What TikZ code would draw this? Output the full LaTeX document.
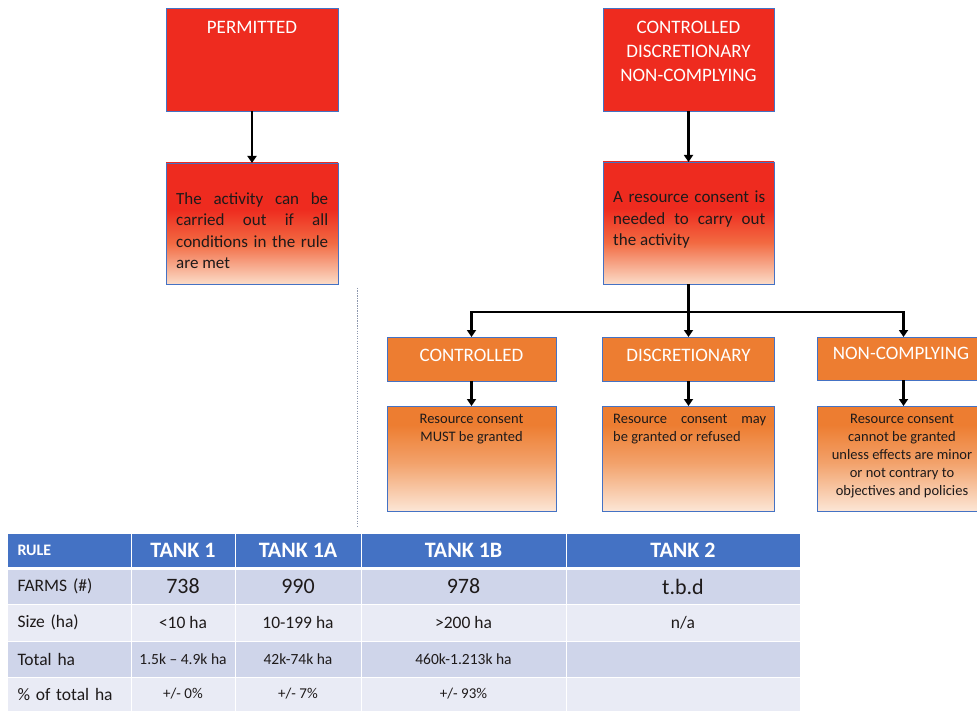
\documentclass[tikz,border=0pt]{standalone}
\usepackage{fontspec}
\setmainfont{Carlito}
\usetikzlibrary{arrows.meta}
\definecolor{bred}{HTML}{EE2B1F}
\definecolor{bborder}{HTML}{4472C4}
\definecolor{borange}{HTML}{ED7D31}
\definecolor{peach}{HTML}{FBDCC8}
\definecolor{peachb}{HTML}{FCE6D6}
\definecolor{midred}{HTML}{F26A42}
\definecolor{hdrblue}{HTML}{4472C4}
\definecolor{rowA}{HTML}{CFD5EA}
\definecolor{rowB}{HTML}{E9EBF5}
\definecolor{txtdark}{HTML}{1E1A1A}
\definecolor{sepgray}{HTML}{8E98AE}
\pgfdeclareverticalshading{redfade}{100bp}{color(0bp)=(peach); color(25bp)=(peach); color(42bp)=(midred); color(56bp)=(bred); color(100bp)=(bred)}
\pgfdeclareverticalshading{orgfade}{100bp}{color(0bp)=(peachb); color(25bp)=(peachb); color(48bp)=(borange!65!peachb); color(66bp)=(borange); color(100bp)=(borange)}
\begin{document}
\begin{tikzpicture}[x=1pt,y=-1pt,
  bx/.style={draw=bborder, line width=0.8pt, inner sep=0pt, outer sep=0pt},
  redhead/.style={bx, fill=bred},
  orghead/.style={bx, fill=borange},
  redbody/.style={bx, shading=redfade},
  orgbody/.style={bx, shading=orgfade},
  headtxt/.style={text=white, font=\fontsize{19}{24}\selectfont, align=center, inner sep=0pt},
  bodytxt/.style={text=txtdark, font=\fontsize{17}{21.5}\selectfont, text width=152pt, align=justify, inner sep=0pt, anchor=north west},
  smalltxt/.style={text=txtdark, font=\fontsize{14.5}{18}\selectfont, inner sep=0pt, anchor=north},
  arr/.style={line width=2.4pt, -{Triangle[length=7pt,width=9pt]}},
  ln/.style={line width=2.4pt},
  cell/.style={inner sep=0pt, outer sep=0pt, draw=white, line width=1pt, anchor=north west, text=txtdark},
  hcell/.style={cell, fill=hdrblue, text=white, font=\fontsize{22}{26}\selectfont\bfseries, minimum height=34pt},
  lbl/.style={text width=103pt, align=left, inner xsep=10.5pt, font=\fontsize{17.5}{20}\selectfont},
  ra/.style={cell, fill=rowA},
  rb/.style={cell, fill=rowB},
  sep/.style={draw=sepgray, line width=0.8pt, dash pattern=on 1.2pt off 1.3pt}
]
\useasboundingbox (0,0) rectangle (977,711);
\fill[white] (0,0) rectangle (977,711);

% ---- left branch
\node[redhead, minimum width=172pt, minimum height=103pt] (perm) at (252,59.5) {};
\node[headtxt] (permL) at (252,27) {PERMITTED};
\node[redbody, minimum width=172pt, minimum height=121pt] (permb) at (252,223.5) {};
\node[bodytxt] (permT) at (176,192) {The activity can be\linebreak carried out if all\linebreak conditions in the rule\linebreak are met};
\draw[arr] (perm.south) -- (permb.north);

% ---- right branch
\node[redhead, minimum width=171pt, minimum height=103pt] (cdn) at (688.5,59.5) {};
\node[headtxt] (cdnL) at (688.5,51) {CONTROLLED\\DISCRETIONARY\\NON-COMPLYING};
\node[redbody, minimum width=171pt, minimum height=122pt] (res) at (688.5,223) {};
\node[bodytxt] (resT) at (613,191) {A resource consent is\linebreak needed to carry out\linebreak the activity};
\draw[arr] (cdn.south) -- (res.north);

\coordinate (split) at (688.5,312);
\node[orghead, minimum width=169pt, minimum height=44pt] (ctrl) at (471.5,359) {};
\node[orghead, minimum width=172pt, minimum height=44pt] (disc) at (688.5,359) {};
\node[orghead, minimum width=173pt, minimum height=43pt] (ncomp) at (903.5,358.5) {};
\node[headtxt] (ctrlL) at (471.5,355) {CONTROLLED};
\node[headtxt] (discL) at (688.5,355) {DISCRETIONARY};
\node[headtxt] (ncompL) at (901,353) {NON-COMPLYING};

\draw[ln] (res.south) -- (split);
\draw[arr] (split) -| (ctrl.north);
\draw[arr] (split) -- (disc.north);
\draw[arr] (split) -| (ncomp.north);

\node[orgbody, minimum width=169pt, minimum height=105pt] (ctrlb) at (471.5,458.5) {};
\node[orgbody, minimum width=172pt, minimum height=105pt] (discb) at (688.5,458.5) {};
\node[orgbody, minimum width=173pt, minimum height=105pt] (ncompb) at (903.5,458.5) {};
\draw[arr] (ctrl.south) -- (ctrlb.north);
\draw[arr] (disc.south) -- (discb.north);
\draw[arr] (ncomp.south) -- (ncompb.north);

\node[smalltxt, align=center] (ctrlT) at (471.5,414) {Resource consent\\MUST be granted};
\node[smalltxt, anchor=north west, text width=153pt, align=justify] (discT) at (613,414) {Resource consent may\linebreak be granted or refused};
\node[smalltxt, align=center] (ncompT) at (902,414) {Resource consent\\cannot be granted\\unless effects are minor\\or not contrary to\\objectives and policies};

% ---- separator
\coordinate (sepA) at (357,288);
\coordinate (sepB) at (357,527);
\draw[sep] (sepA) -- (sepB);

% ---- table
\node[hcell, lbl, font=\fontsize{16}{18}\selectfont\bfseries, minimum width=124pt] (h0) at (7,533) {RULE};
\node[hcell, minimum width=104pt] (h1) at (131,533) {TANK 1};
\node[hcell, minimum width=126pt] (h2) at (235,533) {TANK 1A};
\node[hcell, minimum width=205pt] (h3) at (361,533) {TANK 1B};
\node[hcell, minimum width=234pt] (h4) at (566,533) {TANK 2};

\begin{scope}[every node/.append style={minimum height=35pt}]
\node[ra, lbl, minimum width=124pt] (r1c0) at (7,569) {FARMS (\#)};
\node[ra, minimum width=104pt, font=\fontsize{22}{26}\selectfont] (r1c1) at (131,569) {738};
\node[ra, minimum width=126pt, font=\fontsize{22}{26}\selectfont] (r1c2) at (235,569) {990};
\node[ra, minimum width=205pt, font=\fontsize{22}{26}\selectfont] (r1c3) at (361,569) {978};
\node[ra, minimum width=234pt, font=\fontsize{22}{26}\selectfont] (r1c4) at (566,569) {t.b.d};
\end{scope}

\begin{scope}[every node/.append style={minimum height=37pt, font=\fontsize{17.5}{20}\selectfont}]
\node[rb, lbl, minimum width=124pt] (r2c0) at (7,604) {Size (ha)};
\node[rb, minimum width=104pt] (r2c1) at (131,604) {<10 ha};
\node[rb, minimum width=126pt] (r2c2) at (235,604) {10-199 ha};
\node[rb, minimum width=205pt] (r2c3) at (361,604) {>200 ha};
\node[rb, minimum width=234pt] (r2c4) at (566,604) {n/a};
\end{scope}

\begin{scope}[every node/.append style={minimum height=36pt, font=\fontsize{15.5}{18}\selectfont}]
\node[ra, lbl, minimum width=124pt] (r3c0) at (7,641) {Total ha};
\node[ra, minimum width=104pt] (r3c1) at (131,641) {1.5k – 4.9k ha};
\node[ra, minimum width=126pt] (r3c2) at (235,641) {42k-74k ha};
\node[ra, minimum width=205pt] (r3c3) at (361,641) {460k-1.213k ha};
\node[ra, minimum width=234pt] (r3c4) at (566,641) {};
\end{scope}

\begin{scope}[every node/.append style={minimum height=34pt, font=\fontsize{15}{18}\selectfont}]
\node[rb, lbl, minimum width=124pt] (r4c0) at (7,677) {\% of total ha};
\node[rb, minimum width=104pt] (r4c1) at (131,677) {+/- 0\%};
\node[rb, minimum width=126pt] (r4c2) at (235,677) {+/- 7\%};
\node[rb, minimum width=205pt] (r4c3) at (361,677) {+/- 93\%};
\node[rb, minimum width=234pt] (r4c4) at (566,677) {};
\end{scope}
\end{tikzpicture}
\end{document}
